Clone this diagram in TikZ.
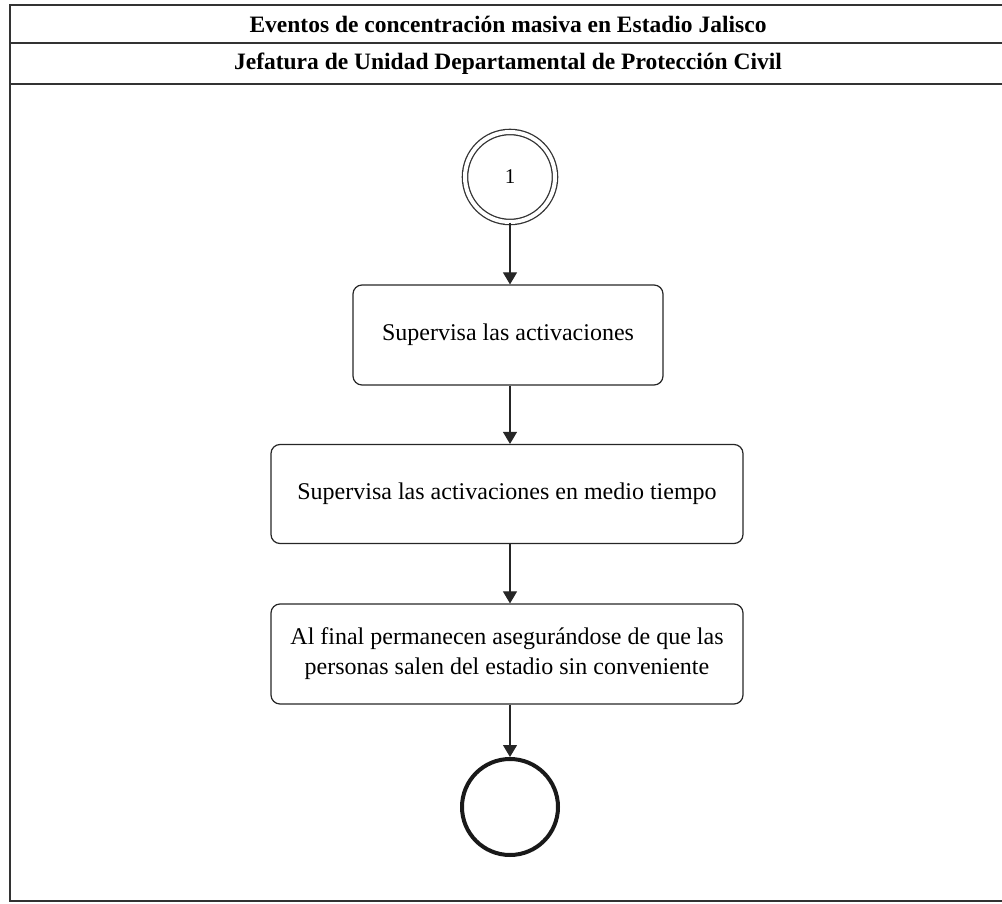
\documentclass[tikz,border=0pt]{standalone}
\usepackage{fontspec}
\setmainfont{Liberation Serif}
\usetikzlibrary{arrows.meta,positioning}

\begin{document}
\begin{tikzpicture}[x=1pt,y=-1pt,
    lane/.style={line width=1.2pt,draw=black!80},
    titulo/.style={font=\fontsize{23.5}{26}\selectfont\bfseries},
    accion/.style={draw=black!85,line width=1.2pt,rounded corners=9pt,align=center,
      font=\fontsize{24}{30}\selectfont,inner sep=0pt},
    flujo/.style={-{Triangle[length=12pt,width=14pt]},line width=1.1pt,black!85}]
  \useasboundingbox (0,0) rectangle (1002,904);
  % marco y encabezado
  \draw[lane] (1002,5) -- (10,5) -- (10,901) -- (1002,901);
  \draw[lane] (10,43) -- (1002,43);
  \draw[lane] (10,84) -- (1002,84);
  \node[titulo] (t1) at (508,24) {Eventos de concentración masiva en Estadio Jalisco};
  \node[titulo] (t2) at (508,64) {Jefatura de Unidad Departamental de Protección Civil};
  % inicio
  \node[draw=black!80,circle,double,double distance=4pt,line width=1.3pt,
    minimum size=90pt,font=\fontsize{21}{22}\selectfont] (ini) at (510,177) {1};
  \node[accion,minimum width=310pt,minimum height=100pt] (a1) at (508,335) {Supervisa las activaciones};
  \node[accion,minimum width=472pt,minimum height=99pt] (a2) at (507,494) {Supervisa las activaciones en medio tiempo};
  \node[accion,minimum width=472pt,minimum height=100pt] (a3) at (507,654)
    {Al final permanecen asegurándose de que las\\personas salen del estadio sin conveniente};
  % fin
  \node[draw=black!90,circle,line width=4pt,minimum size=96pt] (fin) at (510,807) {};
  \draw[flujo] (ini) -- (ini |- a1.north);
  \draw[flujo] (a1.south -| ini) -- (a2.north -| ini);
  \draw[flujo] (a2.south -| ini) -- (a3.north -| ini);
  \draw[flujo] (a3.south -| fin) -- (fin);
\end{tikzpicture}
\end{document}
